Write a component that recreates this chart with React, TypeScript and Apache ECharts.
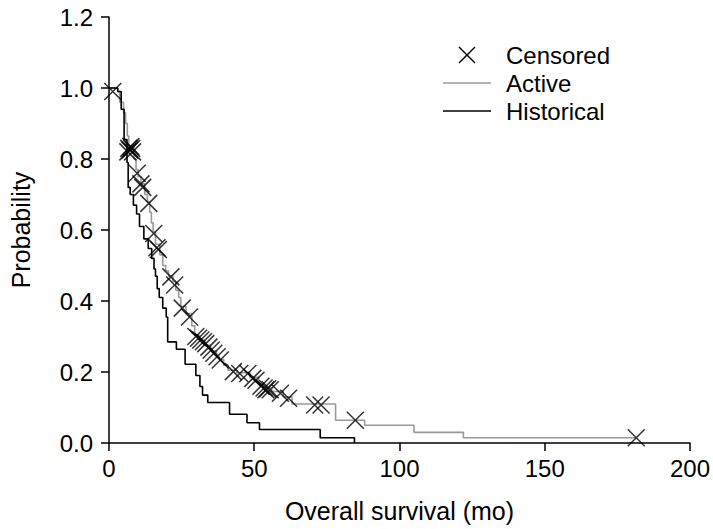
import React, { useEffect, useRef } from "react";
import * as echarts from "echarts";

// Kaplan-Meier steps: [months, survival probability]
const historicalCurve: number[][] = [
  [0, 1.0], [3, 0.99], [4.2, 0.94], [5.2, 0.855], [6.2, 0.79], [6.6, 0.72], [7.3, 0.70],
  [8.4, 0.67], [9.5, 0.645], [10.5, 0.61], [12, 0.575], [13.5, 0.548], [14.7, 0.52],
  [15.5, 0.49], [16, 0.47], [16.6, 0.435], [17.3, 0.41], [18.5, 0.38], [19.7, 0.355],
  [20.2, 0.285], [23.2, 0.264], [26.2, 0.222], [29.9, 0.19], [31.3, 0.159], [32.2, 0.135],
  [34, 0.114], [41.5, 0.081], [47.5, 0.057], [51.8, 0.038], [72.7, 0.015], [84.5, 0],
];

const activeCurve: number[][] = [
  [0, 1.0], [3, 0.99], [3.7, 0.96], [5, 0.93], [5.7, 0.9], [6.3, 0.865], [6.8, 0.835],
  [8.6, 0.8], [9.3, 0.77], [10, 0.75], [11, 0.73], [12.3, 0.70], [13.2, 0.68], [14, 0.65],
  [14.6, 0.62], [15.2, 0.595], [16, 0.56], [17.5, 0.53], [18.5, 0.5], [19.5, 0.485],
  [20.5, 0.47], [22, 0.455], [23, 0.43], [24, 0.41], [24.7, 0.385], [26.5, 0.365],
  [28.5, 0.33], [29.5, 0.305], [31, 0.29], [33, 0.275], [35, 0.26], [37, 0.245],
  [38, 0.235], [39.5, 0.22], [41, 0.205], [44, 0.198], [48.5, 0.185], [51.5, 0.165],
  [53, 0.155], [56, 0.145], [60, 0.13], [63, 0.11], [78, 0.064], [88, 0.05],
  [105, 0.03], [122, 0.015], [181.5, 0.015],
];

const censored: number[][] = [
  [1.3, 0.99],
  [6.5, 0.82], [6.8, 0.83], [7.2, 0.825], [7.5, 0.835], [7.8, 0.83], [8.1, 0.82],
  [9.7, 0.76], [11, 0.73], [11.6, 0.72], [13.7, 0.675], [15.4, 0.59], [16.5, 0.55], [17, 0.545],
  [21.3, 0.468], [22.6, 0.445], [25.2, 0.38], [27.7, 0.355],
  [29.9, 0.30], [30.8, 0.295], [31.6, 0.29], [32.5, 0.285], [33.3, 0.28], [34.4, 0.27],
  [35.2, 0.262], [36.1, 0.253], [37.2, 0.243], [38.3, 0.234],
  [42.8, 0.201], [45, 0.196], [47.8, 0.196], [49.5, 0.182], [50.6, 0.177], [52.3, 0.16],
  [53.4, 0.155], [54, 0.15], [54.6, 0.153], [55.5, 0.15],
  [59, 0.14], [61.8, 0.126], [70.8, 0.107], [73, 0.107], [84.8, 0.064], [181.5, 0.015],
];

const xTicks = [0, 50, 100, 150, 200];
const yTicks = [0, 0.2, 0.4, 0.6, 0.8, 1.0, 1.2];
const legendLabels = ["Censored", "Active", "Historical"];

const FONT = "'Liberation Sans', Arial, Helvetica, sans-serif";
const FS = 24;
const NAME_FS = 25;

export default function App() {
  const ref = useRef<HTMLDivElement>(null);
  useEffect(() => {
    if (!ref.current) return;
    const chart = echarts.init(ref.current, null, { renderer: "svg" });
    const axisCommon = {
      axisLine: { lineStyle: { color: "#000", width: 1.5 } },
      axisTick: { show: true, inside: false, length: 8, lineStyle: { color: "#000", width: 1.5 } },
      splitLine: { show: false },
      nameTextStyle: { fontSize: NAME_FS, fontFamily: FONT, color: "#000" },
    };
    chart.setOption({
      animation: false,
      backgroundColor: "#fff",
      grid: { left: 96, right: 22, top: 17, bottom: 86, containLabel: false },
      xAxis: {
        type: "value",
        min: xTicks[0],
        max: xTicks[xTicks.length - 1],
        interval: 50,
        name: "Overall survival (mo)",
        nameLocation: "middle",
        nameGap: 55,
        ...axisCommon,
        axisLabel: { fontSize: FS, fontFamily: FONT, color: "#000", margin: 13 },
      },
      yAxis: {
        type: "value",
        min: yTicks[0],
        max: yTicks[yTicks.length - 1],
        interval: 0.2,
        name: "Probability",
        nameLocation: "middle",
        nameGap: 76,
        nameRotate: 90,
        ...axisCommon,
        axisLabel: {
          fontSize: FS,
          fontFamily: FONT,
          color: "#000",
          margin: 16,
          formatter: (v: number) => v.toFixed(1),
        },
      },
      series: [
        {
          type: "line",
          name: legendLabels[1],
          data: activeCurve,
          step: "end",
          showSymbol: false,
          lineStyle: { color: "#9a9a9a", width: 1.6 },
          z: 2,
        },
        {
          type: "line",
          name: legendLabels[2],
          data: historicalCurve,
          step: "end",
          showSymbol: false,
          lineStyle: { color: "#000", width: 1.6 },
          z: 3,
        },
        {
          type: "scatter",
          name: legendLabels[0],
          data: censored,
          symbol: "path://M0,0L10,10M10,0L0,10",
          symbolSize: 17,
          itemStyle: { color: "transparent", borderColor: "#000", borderWidth: 1.5 },
          z: 4,
        },
      ],
      graphic: [
        { type: "line", shape: { x1: 459, y1: 47, x2: 475, y2: 63 }, style: { stroke: "#000", lineWidth: 1.5 } },
        { type: "line", shape: { x1: 475, y1: 47, x2: 459, y2: 63 }, style: { stroke: "#000", lineWidth: 1.5 } },
        { type: "line", shape: { x1: 443, y1: 83, x2: 491, y2: 83 }, style: { stroke: "#9a9a9a", lineWidth: 1.6 } },
        { type: "line", shape: { x1: 443, y1: 111, x2: 491, y2: 111 }, style: { stroke: "#000", lineWidth: 1.6 } },
        { type: "text", x: 506, y: 55, style: { text: legendLabels[0], fontSize: FS, fontFamily: FONT, fill: "#000", verticalAlign: "middle" } },
        { type: "text", x: 506, y: 83, style: { text: legendLabels[1], fontSize: FS, fontFamily: FONT, fill: "#000", verticalAlign: "middle" } },
        { type: "text", x: 506, y: 111, style: { text: legendLabels[2], fontSize: FS, fontFamily: FONT, fill: "#000", verticalAlign: "middle" } },
      ],
    });
    return () => chart.dispose();
  }, []);
  return <div ref={ref} style={{ width: 713, height: 529, position: "absolute", left: 0, top: 0 }} />;
}
